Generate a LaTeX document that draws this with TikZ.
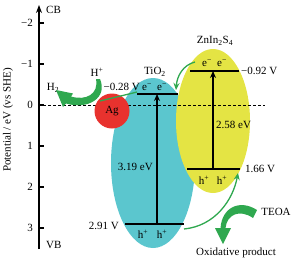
\documentclass[tikz,border=0pt]{standalone}
\usepackage{fontspec}
\setmainfont{Liberation Serif}
\usetikzlibrary{arrows.meta}
\definecolor{tiocol}{HTML}{5BC6CE}
\definecolor{zincol}{HTML}{E4E444}
\definecolor{agcol}{HTML}{E8322E}
\definecolor{grn}{HTML}{2FA84F}
\begin{document}
\begin{tikzpicture}[x=1pt,y=-1pt,
  font=\fontsize{11}{13}\selectfont,
  lbl/.style={inner sep=0pt},
  band/.style={line width=1.5pt},
  gaparrow/.style={line width=1.4pt,-{Stealth[length=7pt,width=6pt]}},
  garrow/.style={grn,line width=1.3pt,-{Stealth[length=7pt,width=6pt]}},
  gline/.style={grn,line width=1.3pt},
  tick/.style={line width=1.4pt}]
\useasboundingbox (0,0) rectangle (292,263);
% ellipses
\fill[tiocol] (153,163) ellipse [x radius=42pt, y radius=85pt];
\fill[zincol] (213,121) ellipse [x radius=37pt, y radius=72pt];
% zero line
\coordinate (dashL) at (43,105);
\coordinate (dashR) at (265,105);
\draw[line width=0.6pt, dash pattern=on 3pt off 2pt] (dashL) -- (dashR);
% axis
\coordinate (axB) at (39,249);
\coordinate (axT) at (39,5);
\draw[line width=1.6pt,-{Stealth[length=8pt,width=6pt]}] (axB) -- (axT);
\foreach \v/\y/\t in {m2/23/−2, m1/64/−1, z/105/0, p1/146/1, p2/187/2, p3/228/3}{
  \coordinate (tk\v) at (39,\y);
  \coordinate (tke\v) at (44,\y);
  \draw[tick] (tk\v) -- (tke\v);
  \node[lbl, anchor=east] (tl\v) at (33,\y) {\t};
}
\node[lbl, anchor=west] (cb) at (46,10) {CB};
\node[lbl, anchor=west] (vb) at (46,245) {VB};
\node[lbl, rotate=90] (ylab) at (8,120) {Potential / eV (vs SHE)};
% Ag
\node[circle, fill=agcol, minimum size=35pt, inner sep=0pt] (ag) at (112,111) {Ag};
% TiO2 bands
\coordinate (tcbL) at (137,94);
\coordinate (tcbR) at (178,94);
\coordinate (tvbL) at (125,224);
\coordinate (tvbR) at (184,224);
\draw[band] (tcbL) -- (tcbR);
\draw[band] (tvbL) -- (tvbR);
\coordinate (tarB) at (157,224);
\coordinate (tarT) at (157,94);
\draw[gaparrow] (tarB) -- (tarT);
% ZnIn2S4 bands
\coordinate (zcbL) at (190,71);
\coordinate (zcbR) at (239,71);
\coordinate (zvbL) at (187,169);
\coordinate (zvbR) at (240,169);
\draw[band] (zcbL) -- (zcbR);
\draw[band] (zvbL) -- (zvbR);
\coordinate (zarB) at (213,169);
\coordinate (zarT) at (213,71);
\draw[gaparrow] (zarB) -- (zarT);
% labels
\node[lbl] (tio) at (155,72) {TiO\textsubscript{2}};
\node[lbl] (zis) at (215,41) {ZnIn\textsubscript{2}S\textsubscript{4}};
\node[lbl, anchor=east] (v028) at (140,87) {−0.28 V};
\node[lbl] (te1) at (147,87) {e\textsuperscript{−}};
\node[lbl] (te2) at (162,87) {e\textsuperscript{−}};
\node[lbl] (ze1) at (207,63) {e\textsuperscript{−}};
\node[lbl] (ze2) at (222,63) {e\textsuperscript{−}};
\node[lbl, anchor=west] (v092) at (241,71) {−0.92 V};
\node[lbl, anchor=west] (e258) at (216,125) {2.58 eV};
\node[lbl, anchor=west] (v166) at (245,169) {1.66 V};
\node[lbl] (zh1) at (204,180) {h\textsuperscript{+}};
\node[lbl] (zh2) at (222,180) {h\textsuperscript{+}};
\node[lbl, anchor=east] (e319) at (153,167) {3.19 eV};
\node[lbl, anchor=east] (v291) at (119,226) {2.91 V};
\node[lbl] (th1) at (143,234) {h\textsuperscript{+}};
\node[lbl] (th2) at (162,234) {h\textsuperscript{+}};
\node[lbl] (hp) at (97,72) {H\textsuperscript{+}};
\node[lbl] (h2) at (53,88) {H\textsubscript{2}};
\node[lbl] (teoa) at (276,212) {TEOA};
\node[lbl] (oxp) at (236,253) {Oxidative product};
% thin green arrows
\coordinate (zs) at (195,62);
\coordinate (te) at (176,90);
\draw[garrow] (zs) .. controls (183,65) and (177,76) .. (te);
\coordinate (vs) at (184,229);
\coordinate (ve) at (238,173);
\draw[garrow] (vs) .. controls (215,226) and (233,200) .. (ve);
\coordinate (ts) at (137,92);
\coordinate (tj) at (100,101);
\draw[gline] (ts) .. controls (125,95) and (112,98) .. (tj);
% thick H+ -> H2 arrow
\fill[grn] (100,79) .. controls (108,98) and (88,110) .. (66,103.5)
  -- (63,107) -- (56,90) -- (73,93.5) -- (71,96.5)
  .. controls (86,101) and (99,94) .. (96,79) -- cycle;
% thick TEOA arrow
\fill[grn] (257,210) .. controls (240,199) and (222,207) .. (220.5,228)
  -- (215,228) -- (223,244) -- (231,228) -- (225.5,228)
  .. controls (227,214) and (240,209) .. (253,218) -- cycle;
\end{tikzpicture}
\end{document}
